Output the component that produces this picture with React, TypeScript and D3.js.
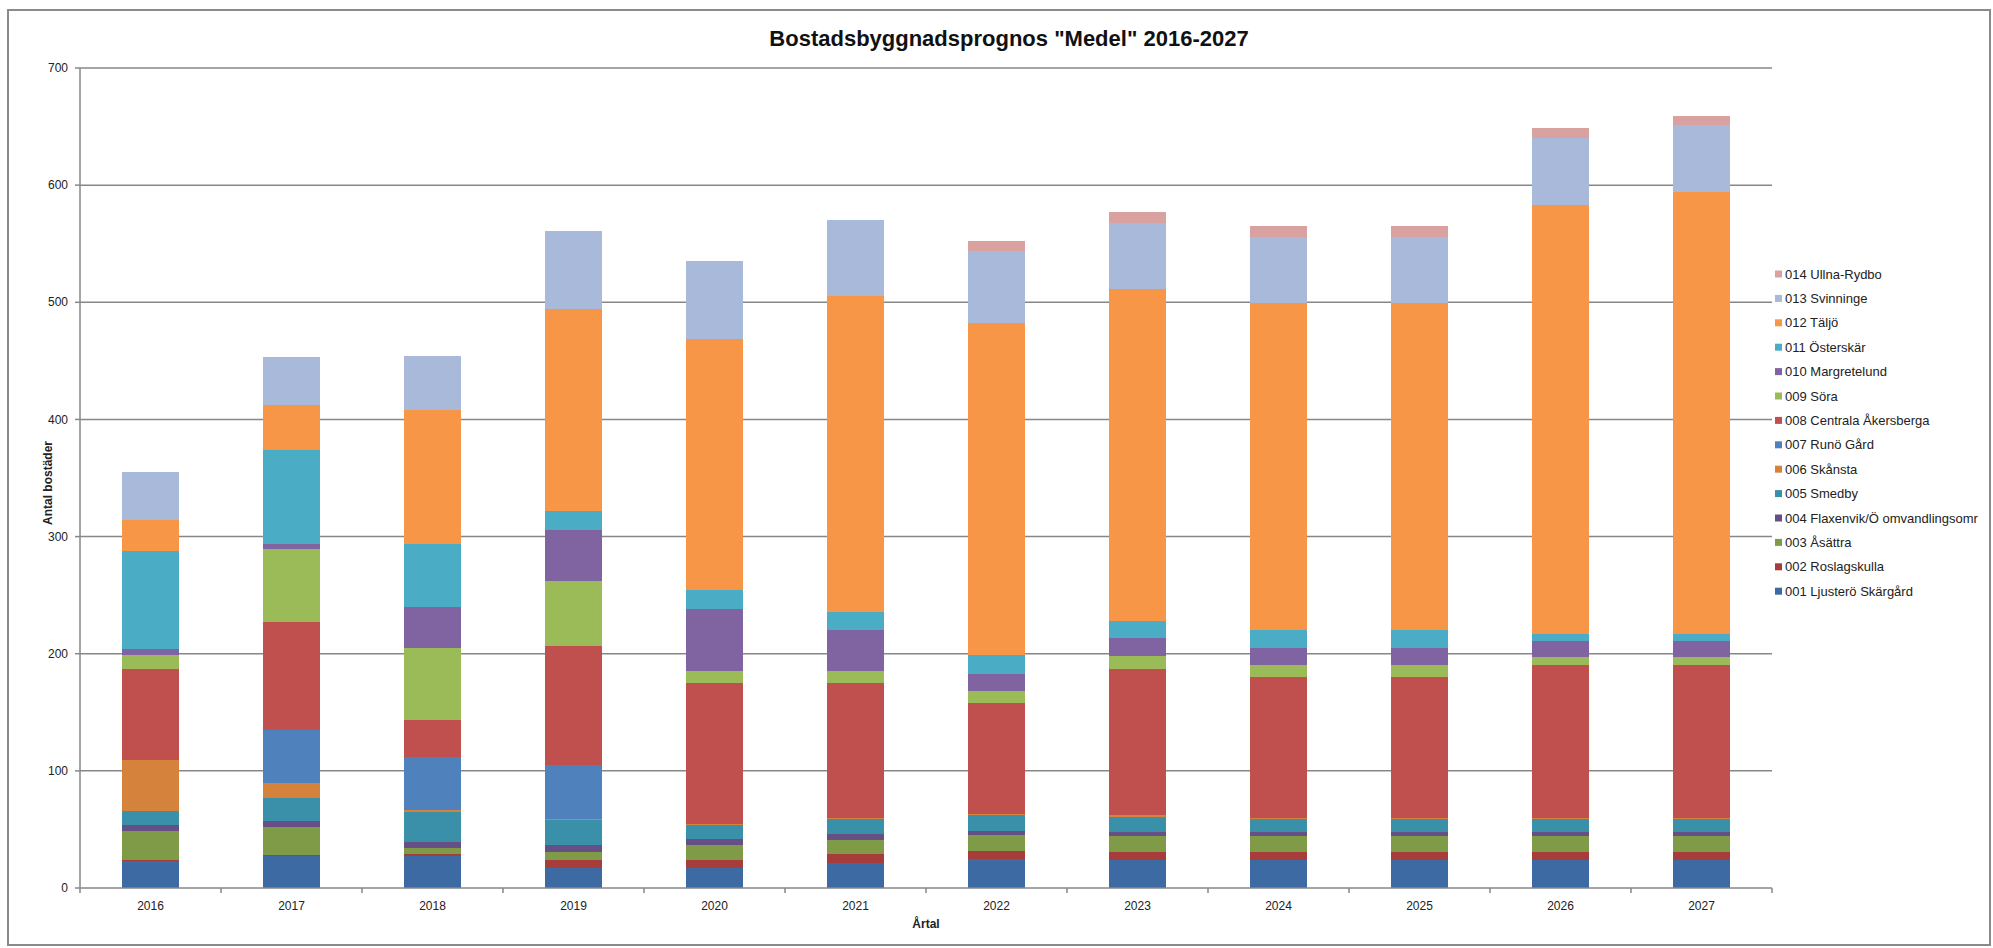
import React from 'react';
import * as d3 from 'd3';

const years = ['2016', '2017', '2018', '2019', '2020', '2021', '2022', '2023', '2024', '2025', '2026', '2027'];

// one array per area, values per year 2016..2027
const ljustero = [23, 27, 27, 17, 17, 21, 25, 24, 24, 24, 24, 24];
const roslagskulla = [1, 1, 2, 7, 7, 8, 7, 7, 7, 7, 7, 7];
const asattra = [25, 24, 5, 7, 13, 12, 13, 13, 13, 13, 13, 13];
const flaxenvik = [5, 5, 5, 6, 5, 5, 4, 4, 4, 4, 4, 4];
const smedby = [12, 20, 26, 21, 12, 13, 13, 13, 11, 11, 11, 11];
const skansta = [43, 13, 2, 1, 1, 1, 1, 1, 1, 1, 1, 1];
const runoGard = [0, 45, 45, 46, 0, 0, 0, 0, 0, 0, 0, 0];
const centrala = [78, 92, 31, 102, 120, 115, 95, 125, 120, 120, 130, 130];
const sora = [12, 62, 62, 55, 10, 10, 10, 11, 10, 10, 7, 7];
const margretelund = [5, 5, 35, 44, 53, 35, 15, 15, 15, 15, 14, 14];
const osterskar = [84, 80, 54, 16, 16, 16, 16, 15, 15, 15, 6, 6];
const taljo = [26, 38, 114, 172, 215, 269, 283, 283, 279, 279, 366, 377];
const svinninge = [41, 41, 46, 67, 66, 65, 62, 57, 57, 57, 57, 57];
const ullnaRydbo = [0, 0, 0, 0, 0, 0, 8, 9, 9, 9, 9, 8];

const seriesNames = [
  '001 Ljusterö Skärgård',
  '002 Roslagskulla',
  '003 Åsättra',
  '004 Flaxenvik/Ö omvandlingsomr',
  '005 Smedby',
  '006 Skånsta',
  '007 Runö Gård',
  '008 Centrala Åkersberga',
  '009 Söra',
  '010 Margretelund',
  '011 Österskär',
  '012 Täljö',
  '013 Svinninge',
  '014 Ullna-Rydbo',
];
const seriesValues = [
  ljustero, roslagskulla, asattra, flaxenvik, smedby, skansta, runoGard,
  centrala, sora, margretelund, osterskar, taljo, svinninge, ullnaRydbo,
];
const seriesColors = [
  '#3e6aa3', '#a63d3b', '#7f9b48', '#654f85', '#3a90a9', '#d5823d', '#4f81bd',
  '#c0504d', '#9bbb59', '#8064a2', '#4bacc6', '#f79646', '#a8b9da', '#d9a1a0',
];
const yTicks = [0, 100, 200, 300, 400, 500, 600, 700];

const font = '"Liberation Sans", Arial, sans-serif';

export default function App() {
  const width = 1993;
  const height = 948;
  const plot = { left: 80, right: 1772, top: 68, bottom: 888 };

  const table = years.map((year, i) => {
    const row: Record<string, any> = { year };
    seriesNames.forEach((name, k) => { row[name] = seriesValues[k][i]; });
    return row;
  });
  const stacked = d3.stack<any>().keys(seriesNames)(table);

  const x = d3.scaleBand()
    .domain(years)
    .range([plot.left, plot.right])
    .paddingInner(0.6)
    .paddingOuter(0.3);

  const y = d3.scaleLinear()
    .domain([0, 700])
    .range([plot.bottom, plot.top]);

  const step = x.step();
  const boundaries = d3.range(years.length + 1).map(k => plot.left + k * step);
  const legendTop = 274;
  const legendGap = 24.4;

  return (
    <svg width={width} height={height} style={{ position: 'absolute', left: 0, top: 0, background: '#fff' }} fontFamily={font}>
      <rect x={0} y={0} width={width} height={height} fill="#fff" />
      <rect x={8} y={10} width={1982} height={935} fill="none" stroke="#8a8a8a" strokeWidth={2} />

      <text x={1009} y={46} textAnchor="middle" fontSize={22} fontWeight="bold" fill="#111">
        Bostadsbyggnadsprognos "Medel" 2016-2027
      </text>

      {/* gridlines */}
      {yTicks.filter(t => t > 0).map(t => (
        <line key={t} x1={plot.left} x2={plot.right} y1={y(t)} y2={y(t)} stroke="#878787" strokeWidth={1.5} />
      ))}

      {/* bars */}
      {stacked.map((layer, k) => (
        <g key={layer.key} fill={seriesColors[k]}>
          {layer.map((d, i) => {
            const h = y(d[0]) - y(d[1]);
            if (h <= 0) return null;
            return (
              <rect key={i} x={x(years[i])} width={x.bandwidth()} y={y(d[1])} height={h} shapeRendering="crispEdges" />
            );
          })}
        </g>
      ))}

      {/* y axis */}
      <line x1={plot.left} x2={plot.left} y1={plot.top} y2={plot.bottom} stroke="#878787" strokeWidth={1.5} />
      {yTicks.map(t => (
        <g key={t}>
          <line x1={plot.left - 5} x2={plot.left} y1={y(t)} y2={y(t)} stroke="#878787" strokeWidth={1.5} />
          <text x={plot.left - 12} y={y(t)} dy="0.35em" textAnchor="end" fontSize={12} fill="#222">{t}</text>
        </g>
      ))}

      {/* x axis */}
      <line x1={plot.left} x2={plot.right} y1={plot.bottom} y2={plot.bottom} stroke="#878787" strokeWidth={1.5} />
      {boundaries.map((bx, k) => (
        <line key={k} x1={bx} x2={bx} y1={plot.bottom} y2={plot.bottom + 5} stroke="#878787" strokeWidth={1.5} />
      ))}
      {years.map(yr => (
        <text key={yr} x={(x(yr) || 0) + x.bandwidth() / 2} y={plot.bottom + 22} textAnchor="middle" fontSize={12} fill="#222">{yr}</text>
      ))}

      {/* axis titles */}
      <text x={(plot.left + plot.right) / 2} y={928} textAnchor="middle" fontSize={12} fontWeight="bold" fill="#222">Årtal</text>
      <text transform={`translate(52, ${483}) rotate(-90)`} textAnchor="middle" fontSize={12} fontWeight="bold" fill="#222">Antal bostäder</text>

      {/* legend, top = last series */}
      {seriesNames.slice().reverse().map((name, i) => {
        const k = seriesNames.length - 1 - i;
        const cy = legendTop + i * legendGap;
        return (
          <g key={name}>
            <rect x={1775} y={cy - 3.5} width={7} height={7} fill={seriesColors[k]} />
            <text x={1785} y={cy} dy="0.35em" fontSize={13} fill="#222">{name}</text>
          </g>
        );
      })}
    </svg>
  );
}
